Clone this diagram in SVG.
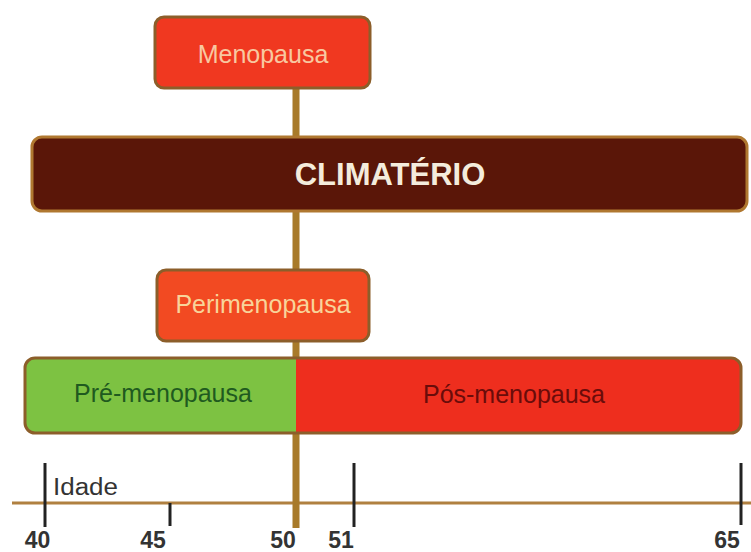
<svg xmlns="http://www.w3.org/2000/svg" width="751" height="552" viewBox="0 0 751 552">
<style>
.box{stroke:#8c5e2a;stroke-width:3}
.lbl{font-family:"Liberation Sans",Arial,sans-serif;font-size:25px;text-anchor:middle}
.num{font-family:"Liberation Sans",Arial,sans-serif;font-size:23px;font-weight:bold;fill:#333;text-anchor:middle}
.tick{stroke:#222;stroke-width:3}
</style>
<rect width="751" height="552" fill="#ffffff"/>
<g id="connectors">
<line x1="12" y1="503" x2="751" y2="503" stroke="#b08040" stroke-width="3"/>
<line x1="296" y1="88" x2="296" y2="528" stroke="#a87a2a" stroke-width="7"/>
<line class="tick" x1="45" y1="463" x2="45" y2="527"/>
<line class="tick" x1="170" y1="503" x2="170" y2="526"/>
<line class="tick" x1="354" y1="463" x2="354" y2="527"/>
<line class="tick" x1="741" y1="463" x2="741" y2="525"/>
</g>
<g id="menopausa">
<rect class="box" x="155" y="17" width="215" height="71" rx="9" fill="#f03820"/>
<text class="lbl" x="263" y="63" fill="#f8c8a0">Menopausa</text>
</g>
<g id="climaterio">
<rect x="32" y="137" width="715" height="74" rx="10" fill="#5a1608" stroke="#b07830" stroke-width="3"/>
<text x="390" y="185" font-family="'Liberation Sans',Arial,sans-serif" font-size="31" font-weight="bold" fill="#f4ecdc" text-anchor="middle">CLIMATÉRIO</text>
</g>
<g id="perimenopausa">
<rect class="box" x="157" y="270" width="212" height="71" rx="9" fill="#f24a22"/>
<text class="lbl" x="263" y="313" fill="#f8d49a">Perimenopausa</text>
</g>
<g id="bar">
<path d="M296 358 H731 a10 10 0 0 1 10 10 V423 a10 10 0 0 1 -10 10 H296 Z" fill="#ee2e1e"/>
<path d="M296 358 H35 a10 10 0 0 0 -10 10 V423 a10 10 0 0 0 10 10 H296 Z" fill="#7dc242"/>
<rect x="25" y="358" width="716" height="75" rx="10" fill="none" stroke="#8c5e2a" stroke-width="3"/>
</g>
<g id="pre-menopausa">
<text class="lbl" x="163" y="402" fill="#1f5a1f">Pré-menopausa</text>
</g>
<g id="pos-menopausa">
<text class="lbl" x="514" y="403" fill="#6a0c0a">Pós-menopausa</text>
</g>
<g id="axis-labels">
<text x="53" y="495" font-family="'Liberation Sans',Arial,sans-serif" font-size="23" fill="#333" textLength="65" lengthAdjust="spacingAndGlyphs">Idade</text>
<text class="num" x="37.5" y="548">40</text>
<text class="num" x="153" y="548">45</text>
<text class="num" x="283" y="548">50</text>
<text class="num" x="341" y="548">51</text>
<text class="num" x="727" y="548">65</text>
</g>
</svg>
